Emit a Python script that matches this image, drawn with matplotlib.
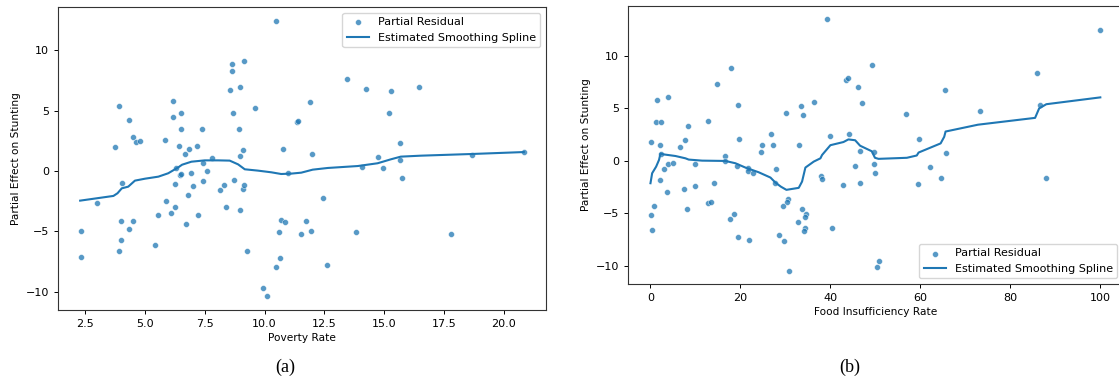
import matplotlib
matplotlib.use("Agg")
import matplotlib.pyplot as plt

# panel (a): poverty rate
pov_x = [2.32, 2.32, 3.01, 3.90, 3.74, 4.35, 4.49, 4.61, 4.78, 4.06, 4.0, 4.5, 4.35, 4.0, 3.93,
         5.40, 5.53, 5.83, 6.15, 6.15, 6.51, 6.49, 6.42, 6.68, 6.85, 7.18, 7.38, 7.43, 7.82,
         6.29, 6.48, 6.52, 6.94, 7.61, 6.24, 7.01, 7.43, 6.79, 5.89, 6.24, 6.07, 6.71, 7.21,
         8.13, 8.29, 8.39, 8.71, 8.99, 9.08, 9.15, 9.26, 8.57, 8.63, 8.64, 9.14, 8.99, 8.68,
         8.92, 9.60, 9.08, 8.96, 10.46, 10.78, 10.97, 11.36, 11.40, 11.9, 10.68, 10.85, 11.72,
         10.58, 11.5, 10.65, 10.46, 9.93, 10.10, 11.95, 11.97, 12.44, 12.6, 13.44, 14.22,
         15.29, 15.19, 16.47, 15.64, 14.75, 14.06, 14.94, 15.65, 15.72, 13.83, 17.79, 18.67,
         20.83]
pov_y = [-4.97, -7.1, -2.62, 5.41, 2.02, 4.23, 2.79, 2.43, 2.49, -0.97, -4.12, -4.17, -4.83, -5.69,
         -6.6, -6.13, -3.65, 2.54, 5.80, 4.50, 4.78, 3.51, 2.04, 1.44, 1.82, 2.10, 3.51, 0.66, 1.05,
         0.25, -0.30, -0.28, -0.14, 0.03, -1.05, -1.24, -0.86, -1.96, -2.49, -2.98, -3.45, -4.42,
         -3.65, -1.57, -1.19, -2.98, -0.77, -3.2, -1.49, -1.19, -6.6, 6.74, 8.29, 8.87, 9.14, 6.99,
         4.83, 3.45, 5.22, 1.77, 1.24, 12.46, 1.82, -0.14, 4.09, 4.17, 5.69, -4.06, -4.25, -4.12,
         -5.08, -5.22, -7.18, -7.96, -9.67, -10.39, -4.94, 1.44, -2.21, -7.76, 7.65, 6.80, 6.66,
         4.78, 6.99, 2.35, 1.16, 0.30, 0.22, 0.91, -0.58, -5.03, -5.22, 1.33, 1.57]
pov_spline_x = [2.29, 3.68, 3.85, 4.03, 4.3, 4.58, 5.0, 5.56, 5.97, 6.39, 6.55, 6.94, 7.5, 8.06,
                8.54, 8.89, 9.17, 9.72, 10.28, 10.69, 11.1, 11.53, 12.01, 12.64, 13.89, 14.72,
                15.28, 15.69, 16.53, 18.67, 20.83]
pov_spline_y = [-2.46, -2.07, -1.85, -1.44, -1.3, -0.8, -0.64, -0.47, -0.19, 0.30, 0.52, 0.77,
                0.88, 0.88, 0.86, 0.55, 0.14, 0.03, -0.11, -0.25, -0.22, -0.14, 0.11, 0.25, 0.41,
                0.64, 0.97, 1.19, 1.27, 1.41, 1.57]

# panel (b): food insufficiency rate
food_x = [39.26, 18.0, 14.81, 1.48, 4.0, 1.33, 2.37, 8.37, 12.89, 0.22, 2.22, 7.78, 6.52, 2.44,
          4.0, 5.11, 3.11, 2.22, 3.78, 7.41, 10.0, 10.0, 14.22, 0.81, 0.07, 0.30, 8.07, 12.89,
          13.41, 19.48, 19.63, 16.52, 16.59, 19.26, 21.7, 21.78, 22.8, 18.52, 17.63, 19.41,
          21.93, 24.74, 24.67, 26.81, 27.26, 27.93, 27.63, 30.07, 33.48, 34.0, 36.3, 33.04,
          30.59, 30.3, 29.56, 33.78, 34.52, 34.37, 32.89, 34.3, 34.15, 28.59, 29.78, 30.81,
          38.0, 38.22, 40.0, 40.37, 42.89, 44.15, 46.59, 45.48, 46.59, 43.56, 43.93, 46.07,
          47.11, 49.26, 49.7, 49.9, 49.7, 50.87, 50.28, 99.93, 85.9, 65.42, 56.73, 73.36,
          86.57, 59.7, 65.71, 62.15, 64.6, 59.55, 87.98]
food_y = [13.54, 8.86, 7.34, 5.82, 6.11, 3.70, 3.70, 3.29, 3.83, 1.77, 1.49, 1.99, 1.30, 0.70,
          -0.28, -0.16, -0.76, -1.77, -2.97, -2.69, -2.41, -0.28, -2.06, -4.27, -5.16, -6.61,
          -4.53, -3.99, -3.86, 5.35, 2.06, 0.47, 0.03, -0.47, -0.66, -0.95, -1.17, -5.09, -5.57,
          -7.22, -7.5, 1.49, 0.82, 2.59, 1.49, -0.76, -2.06, 4.59, 5.22, 4.34, 5.63, 1.49,
          -3.64, -3.89, -4.27, -4.62, -5.03, -5.32, -5.85, -6.39, -6.68, -7.06, -7.63, -10.51,
          -1.46, -1.71, 2.41, -6.39, -2.28, 2.53, 0.95, -0.51, -2.06, 7.69, 7.91, 7.06, 5.47,
          9.11, -0.28, -1.11, 0.82, -9.49, -10.1, 12.5, 8.35, 6.71, 4.46, 4.75, 5.35, 2.12,
          0.76, -0.57, -1.58, -2.15, -1.58]
food_spline_x = [0, 0.37, 1.26, 1.9, 2.22, 3.0, 5.56, 7.78, 8.5, 11.48, 16.67, 18.89, 21.1, 24.07,
                 26.67, 27.78, 29.0, 30.22, 32.96, 33.7, 34.44, 36.3, 37.78, 38.15, 40.0, 42.9,
                 44.0, 45.5, 46.6, 49.2, 49.9, 50.7, 57.0, 59.2, 59.6, 64.5, 65.3, 65.6, 72.8,
                 85.5, 86.4, 88.0, 100]
food_spline_y = [-2.12, -1.17, -0.54, 0.1, 0.70, 0.62, 0.47, 0.25, 0.13, 0.03, 0.0, -0.22, -0.63,
                 -1.08, -1.58, -2.06, -2.45, -2.75, -2.56, -1.96, -0.63, -0.06, 0.25, 0.57, 1.50,
                 1.80, 2.05, 1.97, 1.45, 0.92, 0.30, 0.20, 0.30, 0.52, 0.80, 1.67, 2.3, 2.8, 3.45,
                 4.1, 5.0, 5.4, 6.05]

plt.rcParams["font.family"] = ["DejaVu Sans"]
plt.rcParams["font.size"] = 8

fig = plt.figure(figsize=(11.19, 3.85), dpi=100)
ax_a = fig.add_axes([0.0518, 0.1948, 0.4361, 0.787])
ax_b = fig.add_axes([0.5612, 0.2623, 0.4422, 0.722])

blue = "#1f77b4"


def draw_panel(ax, x, y, sx, sy, xlabel, legend_loc):
    ax.scatter(x, y, s=18, color=blue, alpha=0.75, edgecolors="white", linewidths=0.4,
               label="Partial Residual", zorder=2)
    ax.plot(sx, sy, color=blue, linewidth=1.5, label="Estimated Smoothing Spline", zorder=3)
    ax.set_xlabel(xlabel, fontsize=7.6, labelpad=3)
    ax.set_ylabel("Partial Effect on Stunting", fontsize=7.6, labelpad=3)
    ax.tick_params(labelsize=8, length=3, width=0.7)
    for sp in ax.spines.values():
        sp.set_color("#333333")
        sp.set_linewidth(0.8)
    ax.legend(loc=legend_loc, fontsize=8, framealpha=0.8, edgecolor="#cccccc")


draw_panel(ax_a, pov_x, pov_y, pov_spline_x, pov_spline_y, "Poverty Rate", "upper right")
ax_a.set_xticks([2.5, 5.0, 7.5, 10.0, 12.5, 15.0, 17.5, 20.0])
ax_a.set_yticks([-10, -5, 0, 5, 10])

draw_panel(ax_b, food_x, food_y, food_spline_x, food_spline_y, "Food Insufficiency Rate",
           "lower right")
ax_b.set_xticks([0, 20, 40, 60, 80, 100])
ax_b.set_yticks([-10, -5, 0, 5, 10])

fig.text(0.2547, 0.035, "(a)", family=["Liberation Serif"], fontsize=13, ha="center")
fig.text(0.7596, 0.035, "(b)", family=["Liberation Serif"], fontsize=13, ha="center")

fig.savefig("out.png", dpi=100)
